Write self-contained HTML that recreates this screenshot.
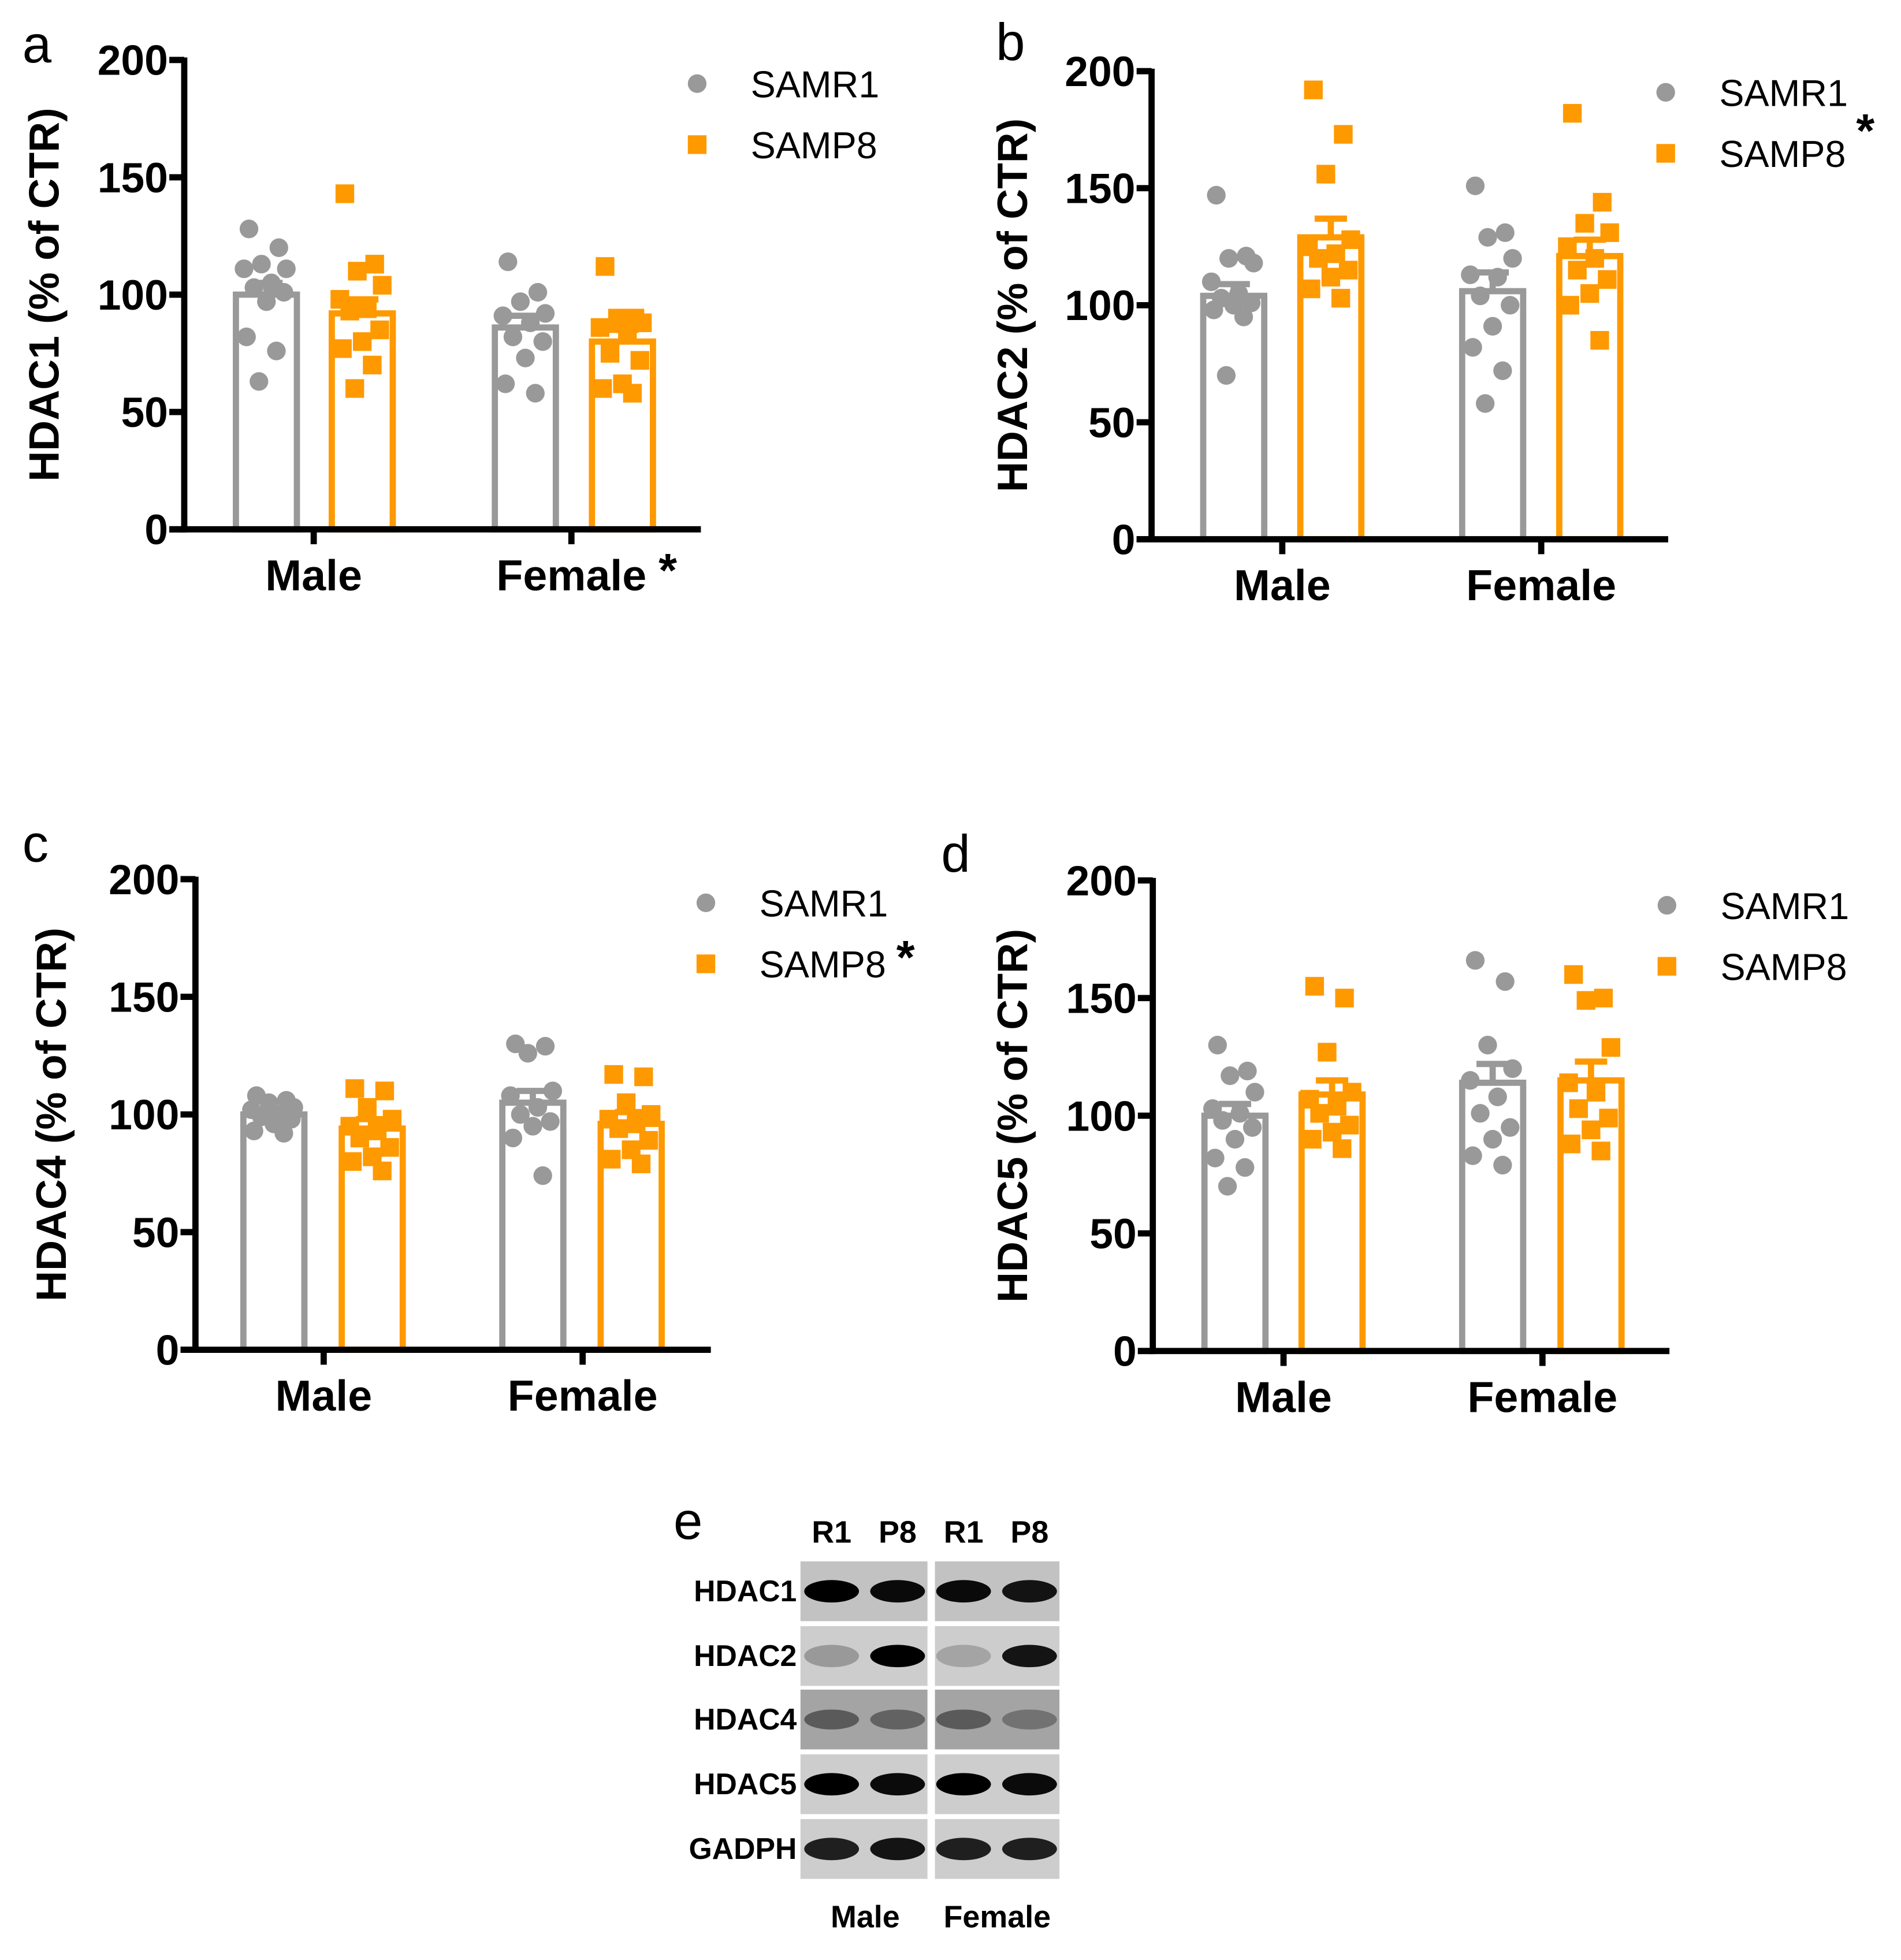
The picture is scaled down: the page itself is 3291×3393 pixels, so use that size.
<!DOCTYPE html>
<html><head><meta charset="utf-8"><style>
html,body{margin:0;padding:0;background:#fff}
svg{display:block}
text{font-family:"Liberation Sans",Arial,sans-serif}
</style></head><body>
<svg id="fig" width="3291" height="3393" viewBox="0 0 1527 1574" xmlns="http://www.w3.org/2000/svg"></svg>
<script>
const categories = ["Male","Female"];
const seriesNames = ["SAMR1","SAMP8"];
const yTicks = [0,50,100,150,200];
// panel a HDAC1
const aMeans = [[100,92],[86,80]];
const aSem = [[5,6],[5,5]];
const aR1Male = [128,120,113,111,111,105,103,101,97,82,76,63];
const aP8Male = [143,113,110,104,98,94,93,85,80,77,70,60];
const aR1Female = [114,101,97,92,91,88,82,80,73,62,58];
const aP8Female = [112,90,90,88,86,85,75,72,62,60,58];
// panel b HDAC2
const bMeans = [[104,129],[106,121]];
const bSem = [[5,8],[8,7]];
const bR1Male = [147,121,120,118,110,105,103,101,100,98,95,70];
const bP8Male = [192,173,156,128,125,122,120,115,112,107,103];
const bR1Female = [151,131,129,120,113,112,104,100,91,82,72,58];
const bP8Female = [182,144,135,131,125,120,115,111,105,100,85];
// panel c HDAC4
const cMeans = [[100,94],[105,96]];
const cSem = [[2,4],[5,5]];
const cR1Male = [108,106,105,103,102,100,99,98,96,93,92];
const cP8Male = [111,110,103,98,95,93,90,86,82,80,76];
const cR1Female = [130,129,126,110,108,103,100,97,95,90,74];
const cP8Female = [117,116,105,100,98,96,94,89,85,81,79];
// panel d HDAC5
const dMeans = [[100,109],[114,115]];
const dSem = [[5,6],[8,8]];
const dR1Male = [130,119,117,110,103,101,98,95,90,82,78,70];
const dP8Male = [155,150,127,110,107,104,101,96,93,90,86];
const dR1Female = [166,157,130,120,115,108,101,95,90,83,79];
const dP8Female = [160,150,149,129,114,110,103,99,94,88,85];

const NS="http://www.w3.org/2000/svg";
const svg=document.getElementById('fig');
function el(tag,attrs,parent,txt){const e=document.createElementNS(NS,tag);for(const k in attrs)e.setAttribute(k,attrs[k]);if(txt!==undefined)e.textContent=txt;(parent||svg).appendChild(e);return e;}
const GRAY="#999999", ORANGE="#ff9900";
const jit=[-14,10,-4,16,-18,4,-10,14,0,-16,8,-6];

function panel(cfg){
  const g=el('g',{});
  
  
  const y=v=>cfg.y0-(cfg.y0-cfg.y200)*v/200;
  const barW=54;
  const L=el('text',{x:cfg.lx,y:cfg.ly,'font-size':42},g,cfg.letter);
  
  const yt=el('text',{x:0,y:0,'font-size':34,'font-weight':'bold','text-anchor':'middle',transform:`translate(${cfg.ytx},${(cfg.y0+cfg.y200)/2}) rotate(-90)`},g,cfg.title);
  
  for(let c=0;c<2;c++){
    for(let s=0;s<2;s++){
      const x0=cfg.barX[c][s], col=s?ORANGE:GRAY, m=cfg.means[c][s];
      const b=el('rect',{x:x0+2.5,y:y(m),width:barW-5,height:cfg.y0-y(m),fill:'none',stroke:col,'stroke-width':5},g);
      
      
      const cx=x0+barW/2, se=cfg.sem[c][s];
      const eb=el('path',{d:`M${cx},${y(m)}V${y(m+se)}M${cx-13},${y(m+se)}H${cx+13}`,stroke:col,'stroke-width':5,fill:'none'},g);
      
      const pts=cfg.pts[c][s];
      pts.forEach((v,i)=>{
        const px=cx+jit[i%jit.length];
        let p;
        if(s===0){p=el('circle',{cx:px,cy:y(v),r:7.5,fill:GRAY},g);}
        else{p=el('rect',{x:px-7.5,y:y(v)-7.5,width:15,height:15,fill:ORANGE},g);}
        
      });
    }
  }
  const ya=el('path',{d:`M${cfg.ax},${cfg.y200-2}V${cfg.y0+2.5}`,stroke:'#000','stroke-width':5},g);
  
  const xa=el('path',{d:`M${cfg.ax-12},${cfg.y0}H${cfg.xend}`,stroke:'#000','stroke-width':5},g);
  
  yTicks.forEach(t=>{
    el('path',{d:`M${cfg.ax-12},${y(t)}H${cfg.ax}`,stroke:'#000','stroke-width':5},g);
    const tl=el('text',{x:cfg.ax-13,y:y(t)+12,'font-size':34,'font-weight':'bold','text-anchor':'end'},g,String(t));
    
  });
  categories.forEach((c,i)=>{
    const tx=cfg.ticks[i];
    el('path',{d:`M${tx},${cfg.y0}V${cfg.y0+12}`,stroke:'#000','stroke-width':5},g);
    const cl=el('text',{x:tx,y:cfg.y0+49,'font-size':35,'font-weight':'bold','text-anchor':'middle'},g,c);
    
  });
  if(cfg.femaleStar){const st=el('text',{x:cfg.ticks[1]+70,y:cfg.y0+46,'font-size':38,'font-weight':'bold'},g,'*');}
  const lg=el('g',{},g);
  el('circle',{cx:cfg.legX,cy:cfg.legY,r:7.5,fill:GRAY},lg);
  const t1=el('text',{x:cfg.legX+43,y:cfg.legY+11,'font-size':30},lg,'SAMR1');
  
  el('rect',{x:cfg.legX-7.5,y:cfg.legY+49-7.5,width:15,height:15,fill:ORANGE},lg);
  const t2=el('text',{x:cfg.legX+43,y:cfg.legY+60,'font-size':30},lg,'SAMP8');
  
  if(cfg.legStar){const st=el('text',{x:cfg.legX+cfg.legStarDx,y:cfg.legY+cfg.legStarDy,'font-size':38,'font-weight':'bold'},lg,'*');}
}

panel({letter:'a',lx:18,ly:50,title:'HDAC1 (% of CTR)',ytx:47,ax:148,y0:425,y200:48,xend:563,ticks:[252,459],
  barX:[[187,264],[395,473]],means:aMeans,sem:aSem,pts:[[aR1Male,aP8Male],[aR1Female,aP8Female]],
  femaleStar:true,legX:560,legY:67});
panel({letter:'b',lx:800,ly:48,title:'HDAC2 (% of CTR)',ytx:825,ax:925,y0:433,y200:57,xend:1340,ticks:[1030,1238],
  barX:[[964,1042],[1172,1250]],means:bMeans,sem:bSem,pts:[[bR1Male,bP8Male],[bR1Female,bP8Female]],
  legX:1338,legY:74,legStar:true,legStarDx:153,legStarDy:44});
panel({letter:'c',lx:18,ly:692,title:'HDAC4 (% of CTR)',ytx:53,ax:157,y0:1084,y200:706,xend:571,ticks:[260,468],
  barX:[[193,272],[401,480]],means:cMeans,sem:cSem,pts:[[cR1Male,cP8Male],[cR1Female,cP8Female]],
  legX:567,legY:725,legStar:true,legStarDx:153,legStarDy:57});
panel({letter:'d',lx:756,ly:700,title:'HDAC5 (% of CTR)',ytx:825,ax:926,y0:1085,y200:707,xend:1341,ticks:[1031,1239],
  barX:[[965,1043],[1172,1251]],means:dMeans,sem:dSem,pts:[[dR1Male,dP8Male],[dR1Female,dP8Female]],
  legX:1339,legY:727});

const blotRows=["HDAC1","HDAC2","HDAC4","HDAC5","GADPH"];
const laneLabels=["R1","P8","R1","P8"];
const bandIntensity=[[1,0.95,0.95,0.9],[0.25,1,0.2,0.9],[0.45,0.4,0.45,0.3],[1,0.95,1,0.95],[0.85,0.9,0.85,0.85]];
const wg=el('g',{});
const le=el('text',{x:541,y:1236,'font-size':42},wg,'e');
const laneX=[668,721,774,827];
laneLabels.forEach((t,i)=>{const tt=el('text',{x:laneX[i],y:1239,'font-size':25,'font-weight':'bold','text-anchor':'middle'},wg,t);});
const rowY=[1254,1306,1357,1409,1461];
blotRows.forEach((r,ri)=>{
  const t=el('text',{x:640,y:rowY[ri]+32,'font-size':24,'font-weight':'bold','text-anchor':'end'},wg,r);
  
  const bg=ri===2?'#a4a4a4':(ri===0?'#c2c2c2':'#cdcdcd');
  [[643,102],[751,100]].forEach(([x,w])=>{const bx=el('rect',{x:x,y:rowY[ri],width:w,height:48,fill:bg},wg);});
  laneX.forEach((lx,li)=>{
    const a=bandIntensity[ri][li];
    const b=el('ellipse',{cx:lx,cy:rowY[ri]+24,rx:22,ry:ri===2?8:9,fill:'#000','fill-opacity':a},wg);
    
  });
});
const gm=el('text',{x:695,y:1548,'font-size':25,'font-weight':'bold','text-anchor':'middle'},wg,'Male');
const gf=el('text',{x:801,y:1548,'font-size':25,'font-weight':'bold','text-anchor':'middle'},wg,'Female');
</script>
</body></html>
